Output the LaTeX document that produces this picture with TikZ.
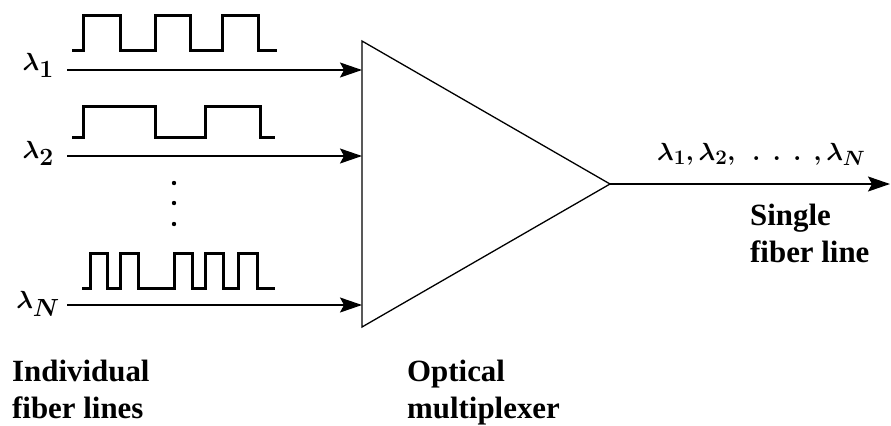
\documentclass[tikz,border=0pt]{standalone}
\usepackage{amsmath}
\usepackage{fontspec}
\setmainfont{Liberation Serif}
\usetikzlibrary{arrows.meta}
\tikzset{
  pulse/.style={line width=3bp, line join=miter},
  fiber/.style={line width=1.5bp, -{Stealth[length=22bp,width=15bp,inset=4bp]}},
  lam/.style={inner sep=0pt, font=\fontsize{34}{40}\selectfont\boldmath},
  caption/.style={inner sep=0pt, align=left, font=\fontsize{31}{37}\selectfont\bfseries},
}
\begin{document}
\begin{tikzpicture}[x=1bp,y=-1bp]
			\useasboundingbox (0,0) rectangle (891,425);
			% multiplexer
			\coordinate (tl) at (362,41);
			\coordinate (bl) at (362,327);
			\coordinate (apex) at (610,184);
			\draw[line width=1.3bp] (tl) -- (apex) -- (bl) -- cycle;
			% input fibers
			\coordinate (in1) at (67,70);
			\coordinate (in2) at (67,156);
			\coordinate (inN) at (67,305);
			\node[lam, anchor=base east] (lam1) at (54,70) {$\lambda_1$};
			\node[lam, anchor=base east] (lam2) at (54,158) {$\lambda_2$};
			\node[lam, anchor=base east] (lamN) at (60,308) {$\lambda_N$};
			\draw[fiber] (in1) -- (in1 -| tl);
			\draw[fiber] (in2) -- (in2 -| tl);
			\draw[fiber] (inN) -- (inN -| tl);
			% bit streams
			\draw[pulse] (72,50) -| (83,15) -| (120,50) -| (155,15) -| (190,50) -| (222,15) -| (258,50) -- (277,50);
			\draw[pulse] (72,137) -| (83,106) -| (155,137) -| (205,106) -| (260,137) -- (275,137);
			\draw[pulse] (82,288) -| (90,253) -| (107,288) -| (120,253) -| (138,288) -| (174,253) -| (192,288)
				-| (205,253) -| (223,288) -| (238,253) -| (257,288) -- (275,288);
			\fill (174,183) circle (2.2bp);
			\fill (174,203) circle (2.2bp);
			\fill (174,224) circle (2.2bp);
			% output fiber
			\coordinate (out) at (890,184);
			\draw[fiber] (apex) -- (out);
			\node[lam, font=\fontsize{31}{36}\selectfont\boldmath, anchor=base west] (lamall) at (657,160)
				{$\lambda_1, \lambda_2,\ \,.\ \,.\ \,.\ \,,\lambda_N$};
			\node[caption, anchor=north west] (single) at (750,204) {Single\\fiber line};
			% captions
			\node[caption, anchor=north west] (indiv) at (12,360) {Individual\\fiber lines};
			\node[caption, anchor=north west] (mux) at (407,360) {Optical\\multiplexer};
		\end{tikzpicture}
\end{document}
